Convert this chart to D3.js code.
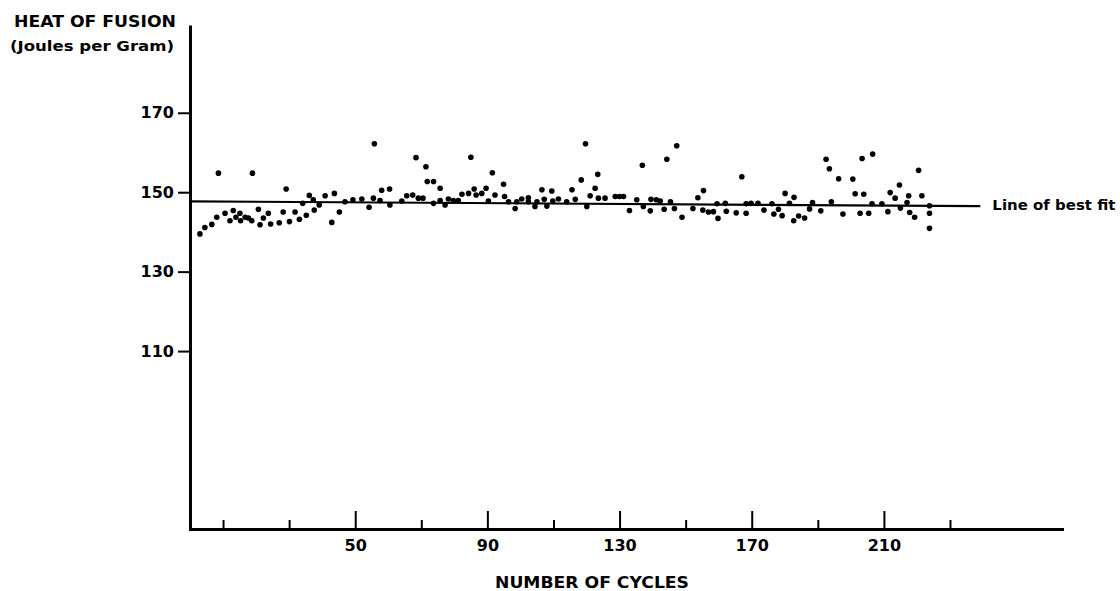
<!DOCTYPE html>
<html><head><meta charset="utf-8">
<script src="https://cdn.jsdelivr.net/npm/d3@7"></script>
<style>html,body{margin:0;padding:0;background:#fff;} svg{display:block;}</style>
</head><body>
<svg id="chart" width="1120" height="591"></svg>
<script>
// ---- data ----
const cycles = [
  3.0,4.5,6.6,8.1,8.6,10.6,12.1,13.1,13.9,15.1,15.3,16.7,17.7,18.7,18.9,20.7,21.2,22.2,23.7,24.4,
  27.0,28.2,29.1,30.1,31.8,33.1,34.1,35.2,36.1,37.3,37.6,39.1,40.9,42.9,43.7,45.2,46.9,49.3,52.0,54.2,
  55.8,55.5,57.5,58.0,60.4,60.5,64.1,65.6,
  67.4,68.4,69.1,70.5,71.4,71.8,73.7,73.7,75.7,75.7,77.2,78.2,79.7,81.2,82.3,84.3,85.0,86.0,86.6,88.3,
  89.6,90.3,91.5,92.3,94.9,95.2,96.4,98.4,98.9,100.4,102.4,102.4,104.4,105.0,106.5,107.2,108.0,109.5,109.8,111.5,
  114.0,115.6,116.6,118.4,119.7,120.1,121.1,122.6,123.4,123.6,125.6,128.7,130.0,131.2,133.0,
  135.2,136.9,137.2,139.3,139.5,141.1,142.3,143.5,144.3,145.4,146.6,147.3,148.9,152.2,153.7,155.2,155.4,156.9,158.4,159.5,
  159.8,162.0,162.3,165.3,167.0,168.3,168.3,169.8,171.9,173.7,176.1,176.7,178.1,179.2,180.1,181.4,182.7,182.8,184.2,186.0,
  187.5,188.4,190.9,192.5,193.5,194.1,196.3,197.6,
  200.6,201.3,202.8,203.4,203.9,205.4,206.4,206.6,209.4,211.2,211.9,213.4,214.7,215.0,217.0,217.5,217.8,219.3,220.5,221.5,
  223.8,223.8,223.8
];
const heat = [
  139.5,141.1,141.9,143.7,154.8,144.7,142.8,145.4,143.7,144.7,142.8,143.7,143.5,142.8,154.8,145.7,141.8,143.5,144.7,142.0,
  142.3,145.0,150.8,142.6,145.0,143.2,147.2,144.2,149.2,148.1,145.5,146.8,149.1,142.4,149.7,145.0,147.6,148.1,148.3,146.2,
  162.2,148.5,147.9,150.5,150.8,146.8,147.8,149.1,
  149.3,158.7,148.5,148.5,156.4,152.7,152.7,147.2,151.0,147.9,146.8,148.3,147.9,147.9,149.5,149.7,158.8,150.8,149.3,149.7,
  151.0,147.8,154.9,149.3,152.0,148.9,147.6,145.9,147.6,148.3,148.6,147.6,146.4,147.6,150.6,148.2,146.5,150.3,147.8,148.3,
  147.6,150.6,148.2,153.1,162.2,146.4,149.1,151.0,154.5,148.5,148.5,148.9,148.9,148.9,145.4,
  148.1,156.8,146.4,145.3,148.2,148.1,147.8,145.7,158.3,147.6,145.9,161.7,143.7,145.9,148.6,145.5,150.4,145.0,145.1,147.1,
  143.4,147.2,145.2,144.8,153.9,144.7,147.1,147.2,147.2,145.5,147.1,144.5,145.7,144.1,149.7,147.2,142.8,148.7,144.0,143.5,
  145.8,147.4,145.3,158.3,155.9,147.6,153.4,144.5,
  153.3,149.6,144.7,158.5,149.5,144.7,147.1,159.6,147.1,145.1,149.9,148.5,151.8,146.0,147.4,149.1,144.9,143.7,155.5,149.1,
  146.6,144.7,140.9
];
const yTicks = [110, 130, 150, 170];
const xMajorTicks = [50, 90, 130, 170, 210];
const xMinorTicks = [10, 30, 70, 110, 150, 190, 230];
const fitCycles = [0, 239.2];
const fitHeat = [147.7, 146.5];
const xDomain = [0, 263.9];
const yDomain = [65.2, 192.1];
const yTitle1 = "HEAT OF FUSION";
const yTitle2 = "(Joules per Gram)";
const xTitle = "NUMBER OF CYCLES";
const fitLabel = "Line of best fit";

// ---- drawing ----
const W = 1120, H = 591;
const m = {top: 25, right: 58, bottom: 62, left: 190};
const FONT = "'DejaVu Sans', Verdana, sans-serif";
const svg = d3.select("#chart");

const x = d3.scaleLinear().domain(xDomain).range([m.left, W - m.right]);
const y = d3.scaleLinear().domain(yDomain).range([H - m.bottom, m.top]);

// y axis
const gy = svg.append("g").attr("transform", `translate(${m.left},0)`)
  .call(d3.axisLeft(y).tickValues(yTicks).tickSize(12).tickPadding(4).tickSizeOuter(0));
gy.select(".domain").attr("stroke", "#000").attr("stroke-width", 3);
gy.selectAll(".tick line").attr("stroke", "#000").attr("stroke-width", 2);
gy.selectAll(".tick text").attr("font-family", FONT).attr("font-weight", "bold")
  .attr("font-size", 16).attr("fill", "#000");

// x axis (major ticks with labels)
const gx = svg.append("g").attr("transform", `translate(0,${H - m.bottom})`)
  .call(d3.axisBottom(x).tickValues(xMajorTicks).tickSize(-18).tickPadding(11).tickSizeOuter(0));
gx.select(".domain").attr("stroke", "#000").attr("stroke-width", 3).attr("stroke-linecap", "square");
gx.selectAll(".tick line").attr("stroke", "#000").attr("stroke-width", 2);
gx.selectAll(".tick text").attr("font-family", FONT).attr("font-weight", "bold")
  .attr("font-size", 16).attr("fill", "#000");

// x axis minor ticks
const gxm = svg.append("g").attr("transform", `translate(0,${H - m.bottom})`)
  .call(d3.axisBottom(x).tickValues(xMinorTicks).tickSize(-9).tickFormat(""));
gxm.select(".domain").remove();
gxm.selectAll(".tick line").attr("stroke", "#000").attr("stroke-width", 2);

// line of best fit
const fitData = fitCycles.map((c, i) => [c, fitHeat[i]]);
svg.append("path").datum(fitData)
  .attr("d", d3.line().x(d => x(d[0])).y(d => y(d[1])))
  .attr("stroke", "#000").attr("stroke-width", 2.2).attr("fill", "none");
svg.append("text").attr("x", x(fitCycles[1]) + 12).attr("y", y(fitHeat[1]) + 4)
  .attr("font-family", FONT).attr("font-weight", "bold").attr("font-size", 14)
  .attr("textLength", 123).attr("lengthAdjust", "spacingAndGlyphs")
  .text(fitLabel);

// points
const pts = cycles.map((c, i) => ({c, v: heat[i]}));
svg.append("g").selectAll("circle").data(pts).join("circle")
  .attr("cx", d => x(d.c)).attr("cy", d => y(d.v)).attr("r", 2.8).attr("fill", "#000");

// axis titles
svg.append("text").attr("x", 176).attr("y", 27).attr("text-anchor", "end")
  .attr("font-family", FONT).attr("font-weight", "bold").attr("font-size", 16)
  .attr("textLength", 162).attr("lengthAdjust", "spacingAndGlyphs").text(yTitle1);
svg.append("text").attr("x", 174).attr("y", 51).attr("text-anchor", "end")
  .attr("font-family", FONT).attr("font-weight", "bold").attr("font-size", 14)
  .attr("textLength", 164).attr("lengthAdjust", "spacingAndGlyphs").text(yTitle2);
svg.append("text").attr("x", 592).attr("y", 588).attr("text-anchor", "middle")
  .attr("font-family", FONT).attr("font-weight", "bold").attr("font-size", 16)
  .attr("textLength", 194).attr("lengthAdjust", "spacingAndGlyphs").text(xTitle);
</script>
</body></html>
